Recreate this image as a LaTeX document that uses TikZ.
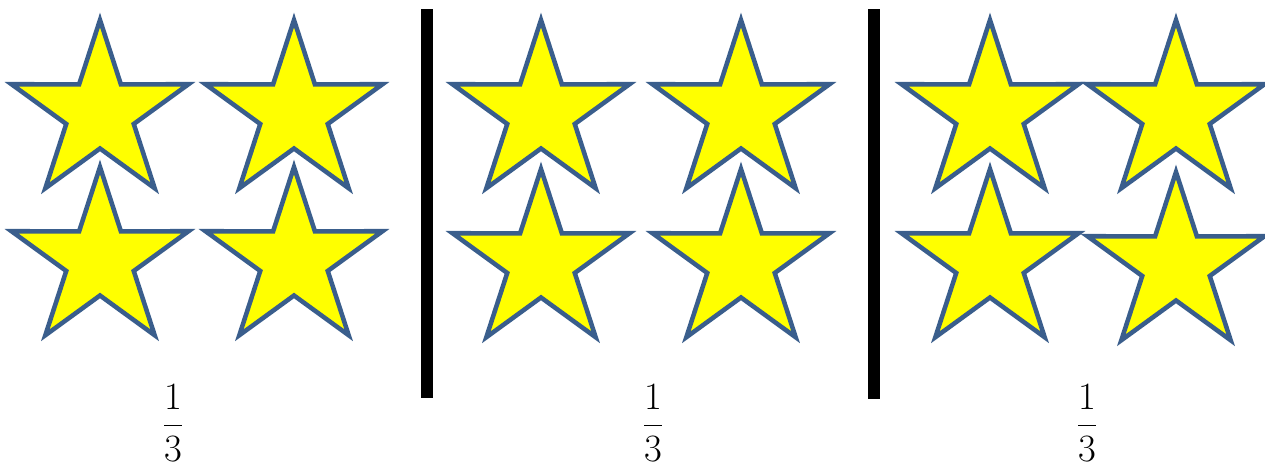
\RequirePackage{fix-cm}
\documentclass[tikz,border=0pt]{standalone}
\usepackage{tikz}

\definecolor{starblue}{RGB}{58,94,140}
\definecolor{staryellow}{RGB}{255,255,0}

\tikzset{
	starline/.style={draw=starblue, fill=staryellow, line width=3.4pt, miter limit=10},
	gstar/.pic={
		\draw[starline] (-90:93) \foreach \k in {1,...,4} { -- ({-126+72*\k}:35.5) -- ({-90+72*\k}:93) } -- (-126:35.5) -- cycle;
	},
	third/.style={font=\fontsize{29}{35}\selectfont}
}

\begin{document}
\begin{tikzpicture}[x=0.75pt, y=-0.75pt]
	
	% Fix the frame of the picture
	\useasboundingbox (0,0) rectangle (1265,467);
	
	% Stars, four in each part
	\foreach \cx/\cy in {100/113, 294/113, 100/260, 294/260,
		541/113, 741/113, 541/262, 741/262,
		990/113, 1176/113, 990/262, 1176/265} {
		\pic at (\cx,\cy) {gstar};
	}
	
	% The two dividing bars
	\fill[black] (421,9) rectangle (433,398);
	\fill[black] (868,9) rectangle (880,399);
	
	% Label each part
	\node[third] (f1) at (173,423) {$\displaystyle\frac{1}{3}$};
	\node[third] (f2) at (653,423) {$\displaystyle\frac{1}{3}$};
	\node[third] (f3) at (1087,423) {$\displaystyle\frac{1}{3}$};
	
\end{tikzpicture}
\end{document}
